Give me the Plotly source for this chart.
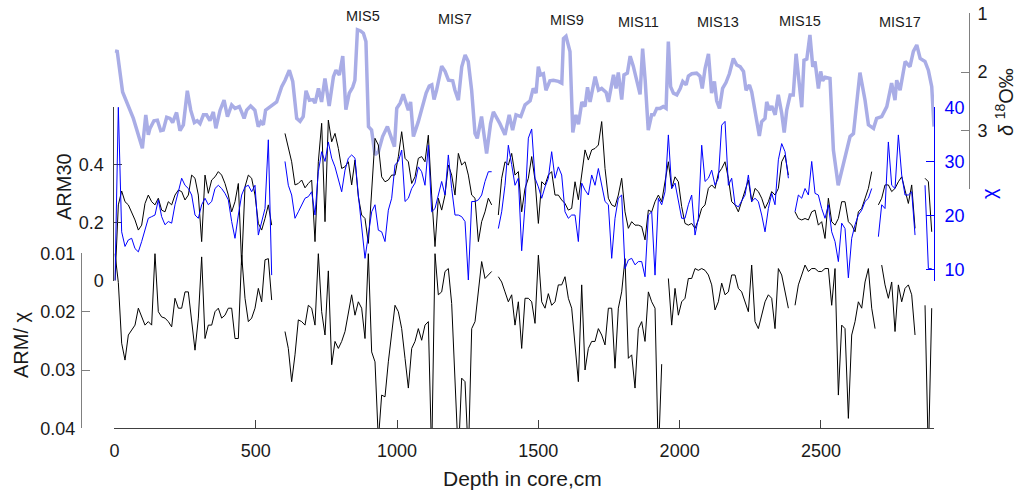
import plotly.graph_objects as go

W, H = 1019, 496

# ---------------- data ----------------
# benthic d18O stack (lavender), irregular depths
d18o_depth = [2, 10, 29, 67, 99, 111, 120, 126, 140, 152, 164, 173, 185, 197, 206, 220, 232, 244, 258, 270,
              283, 293, 303, 315, 326, 338, 350, 359, 374, 388, 400, 415, 427, 442, 450, 459, 468, 482, 497, 509,
              518, 527, 535, 551, 574, 592, 604, 619, 631, 645, 657, 668, 678, 690, 702, 710, 722, 733, 745, 760,
              775, 784, 796, 808, 819, 831, 843, 851, 860, 871, 881, 890, 899, 910, 922, 934, 949, 966, 981, 991,
              999, 1011, 1022, 1032, 1040, 1048, 1058, 1075, 1091, 1103, 1114, 1123, 1131, 1140, 1158, 1170, 1182,
              1197, 1205, 1217, 1229, 1241, 1252, 1264, 1276, 1284, 1299, 1317, 1331, 1341, 1364, 1382, 1397, 1409,
              1421, 1438, 1453, 1471, 1482, 1492, 1500, 1508, 1518, 1527, 1541,
              1553, 1571, 1583, 1589, 1598, 1612, 1622, 1633, 1642, 1654, 1665, 1674, 1683, 1701, 1713, 1724, 1740,
              1748, 1766, 1775, 1783, 1795, 1803, 1815, 1825, 1836, 1846, 1860, 1869, 1878, 1889, 1901, 1909, 1919,
              1931, 1942, 1952, 1960, 1968, 1978, 1990, 2002, 2011, 2023, 2031, 2043, 2060, 2072, 2080, 2090, 2102,
              2113, 2123, 2131, 2141, 2152, 2164, 2176, 2190, 2202, 2214, 2226, 2235, 2247, 2255, 2263, 2270, 2282,
              2290, 2302, 2308, 2318, 2326, 2338, 2349, 2361, 2370, 2379, 2391, 2402, 2412, 2420, 2432, 2440, 2450,
              2461, 2471, 2479, 2491, 2499, 2506, 2515, 2532, 2544, 2561, 2603, 2615, 2638, 2656, 2668, 2686, 2697,
              2715, 2733, 2739, 2750, 2762, 2768, 2780, 2798, 2815, 2827, 2839, 2851, 2868, 2880, 2892, 2900]
d18o = [1.64, 1.65, 2.34, 2.79, 3.30, 2.73, 3.07, 2.96, 2.83, 2.82, 3.00, 2.99, 2.77, 2.79, 2.86, 2.69, 3.00, 2.90, 2.32, 2.65,
        2.86, 2.83, 2.88, 2.73, 2.73, 2.83, 2.68, 2.96, 2.65, 2.48, 2.76, 2.56, 2.62, 2.59, 2.68, 2.79, 2.65, 2.58, 2.65, 2.93,
        2.85, 2.90, 2.65, 2.59, 2.51, 2.25, 2.14, 1.97, 2.16, 2.79, 2.84, 2.76, 2.32, 2.48, 2.47, 2.53, 2.28, 2.51, 2.11, 2.58,
        2.08, 1.97, 2.05, 1.73, 2.64, 2.36, 2.26, 2.14, 1.28, 1.30, 1.34, 1.48, 2.93, 2.99, 3.41, 3.36, 3.10, 2.93, 3.16, 3.27,
        2.62, 2.53, 2.38, 2.56, 2.65, 2.51, 3.10, 2.85, 2.59, 2.36, 2.24, 2.22, 2.47, 2.31, 1.90, 1.99, 2.14,
        2.15, 2.31, 2.48, 1.91, 1.71, 1.82, 2.31, 3.05, 3.13, 2.76, 3.39, 2.88, 2.68, 2.88, 3.07, 2.73, 2.99,
        2.73, 2.76, 2.56, 2.49, 2.28, 2.36, 1.91, 2.05, 2.03, 2.31, 2.15,
        2.14, 2.16, 2.19, 1.43, 1.39, 1.65, 3.03, 2.73, 2.89, 2.51, 2.59, 2.26, 2.51, 2.08, 2.31, 2.28, 2.35,
        2.51, 2.05, 2.28, 2.01, 2.47, 2.05, 2.02, 1.73, 1.90, 2.13, 2.38, 1.60, 2.14, 2.99, 2.73, 2.73, 2.62,
        2.62, 2.59, 2.62, 1.48, 2.25, 2.36, 2.39, 2.28, 2.16, 2.22, 2.07, 2.03, 2.02, 2.07, 2.28, 1.94, 1.69,
        2.36, 2.16, 2.49, 2.62, 2.28, 2.18, 2.03, 1.77, 1.88, 1.91, 1.99, 2.31, 2.22, 2.34, 2.58, 2.70, 3.09,
        2.85, 2.79, 2.51, 2.65, 2.58, 2.73, 2.39, 2.70, 3.03, 2.65, 2.39, 2.39, 1.69, 2.11, 2.60, 1.80, 1.78,
        1.37, 1.91, 1.82, 2.28, 1.99, 2.15, 2.09, 2.11, 3.33, 3.93, 3.10, 3.05, 2.01, 2.48, 2.90, 2.96, 2.79,
        2.76, 2.59, 2.45, 2.19, 2.48, 2.14, 2.31, 1.82, 1.91, 1.65, 1.54, 1.77, 1.82, 1.97, 2.25, 2.93]

# core measurements on a regular sampling interval
FIRST_DEPTH_CM = 2.1
SAMPLE_INTERVAL_CM = 11.795

arm30 = [
    # 0 - 700 cm
    0.0, 0.262, 0.31, 0.273, 0.262, 0.238, 0.21, 0.175, 0.192, 0.267,
    0.296, 0.273, 0.262, 0.285, 0.244, 0.238, 0.273, 0.262, 0.296, 0.313,
    0.308, 0.279, 0.296, 0.365, 0.354, 0.296, 0.135, 0.365, 0.302, 0.348,
    0.359, 0.377, 0.365, 0.336, 0.296, 0.238, 0.273, 0.336, 0.054, 0.325,
    0.365, 0.354, 0.296, 0.198, 0.175, 0.215, 0.262, 0.192, None, None,
    None, 0.509, 0.457, 0.411, 0.331, 0.336, 0.348, 0.321, 0.336, 0.348,
    # 710 - 1440 cm
    0.135, 0.411, 0.544, 0.204, 0.555, 0.48, 0.509, 0.457, 0.388, 0.394,
    0.411, 0.331, 0.417, 0.290, 0.227, 0.215, 0.129, 0.296, 0.492, 0.469,
    0.359, 0.342, 0.348, 0.365, 0.365, 0.429, 0.515, 0.423, 0.411, 0.336,
    0.359, 0.423, 0.429, 0.411, 0.503, 0.296, 0.118, 0.285, 0.244, 0.296,
    0.400, 0.365, 0.296, 0.440, 0.400, 0.411, 0.365, 0.296, 0.285, 0.135,
    0.204, 0.238, 0.285, 0.262, None, 0.227, 0.354, 0.411, 0.400, 0.440,
    0.365, 0.377, 0.238,
    # 1450 - 2190 cm
    0.319, 0.354, 0.429, 0.348, 0.198, 0.342, 0.331, 0.365, 0.377, 0.296,
    0.296, 0.279, 0.267, 0.244, 0.250, 0.342, 0.28, 0.377, 0.452, 0.417,
    0.452, 0.457, 0.469, 0.550, 0.388, 0.285, 0.262, 0.256, 0.296, 0.354,
    0.238, 0.181, 0.204, 0.192, 0.192, 0.187, 0.141, 0.244, 0.238, 0.273,
    0.296, 0.273, 0.348, 0.411, 0.319, 0.359, 0.342, 0.256, 0.198, 0.192,
    0.198, 0.181, 0.210, 0.250, 0.262, 0.319, 0.331, 0.319, 0.371, 0.388,
    0.411, 0.354, 0.273,
    # 2196 - 2900 cm
    0.262, 0.238, 0.273, 0.308, 0.348, 0.273, 0.319, 0.308, 0.285, 0.250,
    0.273, 0.308, 0.296, 0.319, 0.411, 0.434, 0.365, None, 0.238, 0.215,
    0.210, 0.215, 0.210, 0.238, 0.244, 0.192, 0.204, 0.146, 0.285, 0.204,
    0.192, 0.215, 0.273, 0.273, 0.204, 0.192, 0.169, 0.238, 0.250, 0.285,
    0.319, 0.377, None, 0.262, 0.285, 0.331, 0.331, 0.308, 0.319, 0.342,
    0.359, 0.313, 0.267, 0.331, 0.181, None, None, 0.354, 0.342, 0.169,
]

chi = [
    8.0, 40.0, 17.0, 14.3, 15.5, 15.8, 13.9, 13.3, 15.2, 17.6,
    19.5, 19.8, 20.1, 22.9, 19.8, 18.3, 18.9, 18.6, 22.0, 24.4,
    26.9, 25.6, 25.0, 23.8, 20.1, 19.5, 22.0, 23.2, 22.0, 22.6,
    25.0, 25.6, 25.0, 24.1, 22.9, 18.9, 15.8, 20.1, 23.8, 25.3,
    25.6, 24.4, 25.6, 16.4, 18.9, 21.3, 34.0, 9.0, None, None,
    None, 30.0, 25.6, 23.8, 19.5, 20.7, 22.0, 23.2, 23.5, 24.4,

    20.1, 28.1, 31.8, 30.0, 33.6, 30.6, 29.0, 26.9, 24.4, 28.4,
    30.6, 31.2, 30.6, 23.8, 17.6, 12.1, 16.4, 20.7, 22.0, 17.3,
    17.0, 15.2, 21.0, 23.2, 29.4, 30.0, 32.1, 22.6, 23.2, 25.0,
    26.0, 29.0, 28.1, 25.6, 33.0, 20.7, 21.3, 23.8, 26.3, 23.8,
    31.2, 25.0, 20.1, 20.1, 19.8, 18.9, 8.1, 22.6, 22.6, 22.9,
    23.8, 26.3, 28.1, 28.1, None, 17.6, 20.7, 25.6, 33.0, 29.4,
    25.6, 26.9, 13.5,

    22.0, 34.3, 36.0, 26.9, 25.3, 23.2, 25.3, 26.9, 31.8, 26.9,
    29.0, 27.5, 20.7, 19.5, 20.1, 20.1, 15.2, 26.0, 24.7, 23.8,
    27.5, 25.6, 28.7, 25.6, 22.6, 22.0, 12.1, 19.5, 23.2, 23.8,
    10.2, 11.8, 12.1, 10.9, 11.5, 11.5, 8.7, 20.1, 20.7, 9.0,
    23.2, 22.0, 24.4, 34.9, 25.0, 26.0, 22.6, 19.5, 19.5, 22.0,
    23.8, 16.4, 19.5, 33.0, 26.3, 26.9, 28.4, 25.6, 26.9, 36.7,
    37.4, 25.6, 26.9,

    22.0, 21.6, 22.6, 23.8, 27.5, 22.6, 23.2, 22.6, 20.1, 17.0,
    21.3, 24.1, 22.0, 30.3, 33.3, 31.8, 26.9, None, 20.7, 23.8,
    23.2, 25.0, 23.8, 30.0, 24.1, 23.8, 21.3, 19.5, 22.0, 17.0,
    15.2, 11.5, 18.6, 17.6, 8.5, 15.8, 18.3, 20.1, 21.0, 22.6,
    23.2, 25.0, None, 16.1, 22.0, 21.3, 33.6, 25.6, 25.0, 34.9,
    27.5, 23.8, 23.8, 24.4, 16.4, None, None, 25.6, 10.2, 10.2,
]

arm_chi = [
    0.0100, 0.0150, 0.0254, 0.0283, 0.0240, 0.0231, 0.0223, 0.0194, 0.0209, 0.0223,
    0.0217, 0.0223, 0.0100, 0.0200, 0.0209, 0.0211, 0.0217, 0.0226, 0.0177, 0.0194,
    0.0194, 0.0166, 0.0166, 0.0217, 0.0266, 0.0211, 0.0106, 0.0246, 0.0223, 0.0223,
    0.0200, 0.0194, 0.0211, 0.0206, 0.0194, 0.0194, 0.0246, 0.0246, 0.0103, 0.0177,
    0.0217, 0.0211, 0.0194, 0.0160, 0.0183, 0.0111, 0.0109, 0.0180, None, None,
    None, 0.0234, 0.0263, 0.0320, 0.0274, 0.0214, 0.0217, 0.0223, 0.0189, 0.0194,

    0.0223, 0.0100, 0.0200, 0.0240, 0.0130, 0.0291, 0.0251, 0.0263, 0.0251, 0.0234,
    0.0200, 0.0171, 0.0206, 0.0183, 0.0194, 0.0246, 0.0100, 0.0269, 0.0286, 0.0420,
    0.0343, 0.0346, 0.0286, 0.0240, 0.0189, 0.0200, 0.0229, 0.0280, 0.0331, 0.0263,
    0.0251, 0.0229, 0.0249, 0.0223, 0.0217, 0.0450, 0.0100, 0.0171, 0.0166, 0.0131,
    0.0126, 0.0186, 0.0309, 0.0450, 0.0314, 0.0320, 0.0450, 0.0229, 0.0217, 0.0160,
    0.0114, 0.0143, 0.0137, 0.0131, None, 0.0140, 0.0149, 0.0166, 0.0183, 0.0171,
    0.0223, 0.0183, 0.0263,

    0.0177, 0.0177, 0.0183, 0.0220, 0.0103, 0.0183, 0.0194, 0.0169, 0.0189, 0.0183,
    0.0154, 0.0154, 0.0140, 0.0177, 0.0194, 0.0251, 0.0320, 0.0154, 0.0300, 0.0263,
    0.0251, 0.0251, 0.0229, 0.0240, 0.0257, 0.0194, 0.0194, 0.0297, 0.0194, 0.0166,
    0.0109, 0.0280, 0.0274, 0.0331, 0.0229, 0.0217, 0.0251, 0.0166, 0.0183, 0.0194,
    0.0450, 0.0290, None, 0.0143, 0.0223, 0.0160, 0.0206, 0.0183, 0.0177, 0.0143,
    0.0143, 0.0126, 0.0129, 0.0126, 0.0129, 0.0137, 0.0154, 0.0197, 0.0183, 0.0151,
    0.0171, 0.0166, 0.0137,

    0.0137, 0.0160, 0.0166, 0.0183, 0.0200, 0.0120, 0.0217, 0.0229, 0.0206, 0.0183,
    0.0171, 0.0177, 0.0229, 0.0126, 0.0137, 0.0166, 0.0194, None, 0.0189, 0.0154,
    0.0137, 0.0120, 0.0131, 0.0126, 0.0126, 0.0131, 0.0131, 0.0126, 0.0126, 0.0189,
    0.0126, 0.0343, 0.0223, 0.0229, 0.0383, 0.0240, 0.0217, 0.0183, 0.0194, 0.0149,
    0.0126, 0.0194, 0.0229, None, 0.0120, 0.0154, 0.0177, 0.0149, 0.0234, 0.0154,
    0.0183, 0.0160, 0.0154, 0.0171, 0.0240, None, None, 0.0189, 0.0450, 0.0194,
]


def depths(n):
    return [round(FIRST_DEPTH_CM + SAMPLE_INTERVAL_CM * i, 1) for i in range(n)]


x_tickvals = [0, 500, 1000, 1500, 2000, 2500]
mis_labels = ["MIS5", "MIS7", "MIS9", "MIS11", "MIS13", "MIS15", "MIS17"]
mis_depth = [880, 1205, 1600, 1856, 2136, 2426, 2780]

# ---------------- layout helpers (pixel -> paper) ----------------
def px(x):
    return x / W


def py(y):
    return 1 - y / H


FONT = "Liberation Sans, Arial, Helvetica, sans-serif"
BLACK = "#1a1a1a"
BLUE = "#0000ff"
LAV = "#a9ade6"

fig = go.Figure()
# bottom panel ARM/chi (also anchors the depth axis)
fig.add_trace(go.Scatter(x=depths(len(arm_chi)), y=arm_chi, mode="lines",
                         line=dict(color="black", width=1), xaxis="x", yaxis="y", hoverinfo="skip"))
# d18O
fig.add_trace(go.Scatter(x=d18o_depth, y=d18o, mode="lines",
                         line=dict(color=LAV, width=3.5), xaxis="x", yaxis="y2", hoverinfo="skip"))
# ARM30
fig.add_trace(go.Scatter(x=depths(len(arm30)), y=arm30, mode="lines",
                         line=dict(color="black", width=1), xaxis="x", yaxis="y3", hoverinfo="skip"))
# chi
fig.add_trace(go.Scatter(x=depths(len(chi)), y=chi, mode="lines",
                         line=dict(color=BLUE, width=1), xaxis="x", yaxis="y4", hoverinfo="skip"))

common = dict(showgrid=False, zeroline=False, showline=True, linewidth=1, ticks="inside",
              ticklen=8, tickwidth=1, automargin=False, fixedrange=True)

fig.update_layout(
    template="none",
    width=W, height=H,
    margin=dict(l=0, r=0, t=0, b=0),
    paper_bgcolor="white", plot_bgcolor="rgba(0,0,0,0)",
    showlegend=False,
    font=dict(family=FONT, size=18, color=BLACK),
    xaxis=dict(domain=[px(114.4), px(934)], range=[0, 2900], anchor="y",
               tickvals=x_tickvals, ticktext=[str(v) for v in x_tickvals],
               linecolor="#404040", tickcolor="#404040",
               tickfont=dict(size=18, color=BLACK), ticklabelstandoff=6, **common),
    yaxis=dict(domain=[py(428.3), py(253.4)], range=[0.04, 0.01], anchor="free",
               position=px(81), side="left",
               tickvals=[0.01, 0.02, 0.03, 0.04], ticktext=["0.01", "0.02", "0.03", "0.04"],
               linecolor="#808080", tickcolor="#808080",
               tickfont=dict(size=18, color=BLACK), ticklabelstandoff=2, **common),
    yaxis2=dict(domain=[py(189.4), py(13.3)], range=[4, 1], anchor="free",
                position=px(969), side="right",
                tickvals=[1, 2, 3], ticktext=["1", "2", "3"],
                linecolor="#808080", tickcolor="#808080",
                tickfont=dict(size=18, color=BLACK), ticklabelstandoff=4, **common),
    yaxis3=dict(domain=[py(280.7), py(107.1)], range=[0, 0.6], anchor="x", side="left",
                tickvals=[0, 0.2, 0.4], ticktext=["0", "0.2", "0.4"],
                linecolor="#404040", tickcolor="#404040",
                tickfont=dict(size=18, color=BLACK), ticklabelstandoff=6, **common),
    yaxis4=dict(domain=[py(280.7), py(107.1)], range=[7.97, 40.04], anchor="x", side="right",
                tickvals=[10, 20, 30, 40], ticktext=["10", "20", "30", "40"],
                linecolor=BLUE, tickcolor=BLUE,
                tickfont=dict(size=18, color=BLUE), ticklabelstandoff=6, **common),
)

ann = []
# axis titles
ann.append(dict(text="ARM30", x=px(64), y=py(186), textangle=-90, font=dict(size=20, color=BLACK)))
ann.append(dict(text="ARM/ χ", x=px(21), y=py(345), textangle=-90, font=dict(size=20, color=BLACK)))
ann.append(dict(text="χ", x=px(989), y=py(194), textangle=-90, font=dict(size=20, color=BLUE)))
ann.append(dict(text="<i>δ</i> <sup>18</sup>O‰", x=px(1004), y=py(102), textangle=-90,
                font=dict(size=20, color=BLACK)))
ann.append(dict(text="Depth in core,cm", x=px(522), y=py(478), font=dict(size=21, color=BLACK)))
for a in ann:
    a.update(xref="paper", yref="paper", showarrow=False, xanchor="center", yanchor="middle")

mis_ypx = [16, 19, 20, 22, 22, 21, 22]
for lab, d, yy in zip(mis_labels, mis_depth, mis_ypx):
    ann.append(dict(text=lab, x=d, xref="x", y=py(yy), yref="paper", showarrow=False,
                    xanchor="center", yanchor="middle", font=dict(size=14.5, color=BLACK)))

fig.update_layout(annotations=ann)

fig.write_html("out.html")
